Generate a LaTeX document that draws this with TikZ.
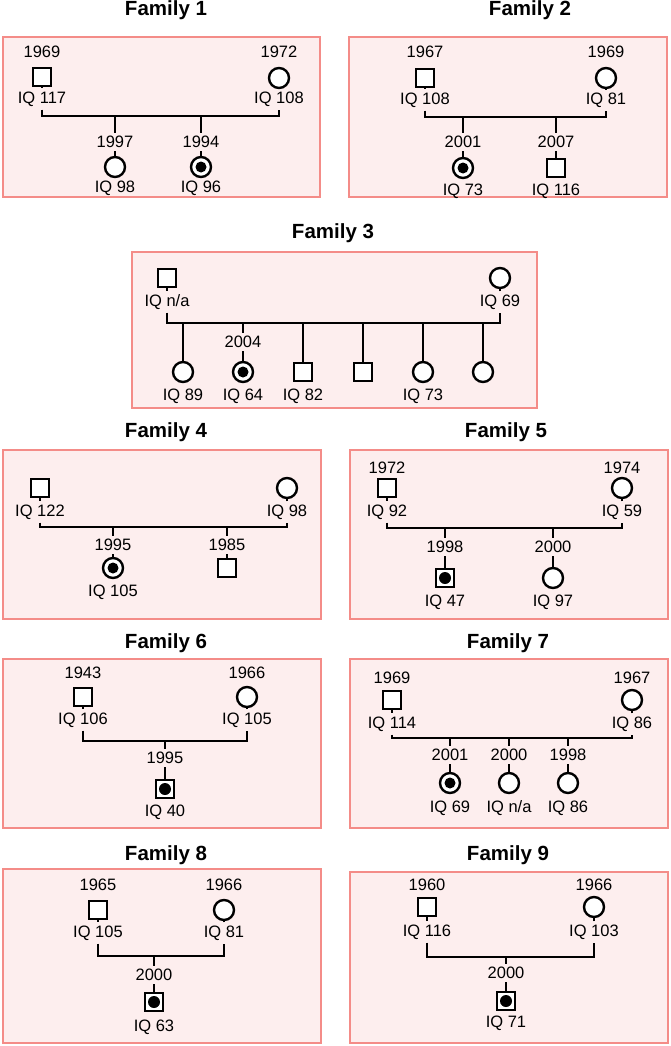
\documentclass[tikz,border=0pt]{standalone}
\usepackage{fontspec}
\setmainfont{Liberation Sans}
\definecolor{panelfill}{RGB}{253,238,238}
\definecolor{panelline}{RGB}{244,140,136}
\tikzset{
  panel/.style={draw=panelline, fill=panelfill, line width=2.2pt},
  ttl/.style={font=\fontsize{20.5}{24}\selectfont\bfseries, inner sep=0pt},
  lbl/.style={font=\fontsize{16.5}{19}\selectfont, inner xsep=1pt, inner ysep=3pt},
  male/.style={draw, rectangle, minimum size=18pt, inner sep=0pt, line width=2.4pt, fill=white},
  female/.style={draw, circle, minimum size=20pt, inner sep=0pt, line width=2.4pt, fill=white},
  ln/.style={line width=2.4pt, line join=miter},
  dotm/.style={fill=black},
}
\begin{document}
\begin{tikzpicture}[x=1pt,y=-1pt]
\fill[white] (0,0) rectangle (671,1046);
\useasboundingbox (0,0) rectangle (671,1046);

% ---------- panels ----------
\draw[panel] (3,37) rectangle (320,197);
\draw[panel] (349,37) rectangle (667,197);
\draw[panel] (132,252) rectangle (537,408);
\draw[panel] (3,450) rectangle (321,619);
\draw[panel] (350,450) rectangle (668,619);
\draw[panel] (3,659) rectangle (321,828);
\draw[panel] (350,659) rectangle (668,828);
\draw[panel] (3,869) rectangle (321,1043);
\draw[panel] (350,872) rectangle (668,1043);

% ---------- titles ----------
\node[ttl] (t1) at (166,10) {Family 1};
\node[ttl] (t2) at (530,10) {Family 2};
\node[ttl] (t3) at (333,233) {Family 3};
\node[ttl] (t4) at (166,432) {Family 4};
\node[ttl] (t5) at (506,432) {Family 5};
\node[ttl] (t6) at (166,643) {Family 6};
\node[ttl] (t7) at (508,643) {Family 7};
\node[ttl] (t8) at (166,855) {Family 8};
\node[ttl] (t9) at (508,855) {Family 9};

% ---------- Family 1 ----------
\node[male] (a1f) at (42,77) {};
\node[lbl] (a1fy) at (42,52) {1969};
\node[lbl] (a1fi) at (42,99) {IQ 117};
\node[female] (a1m) at (279,78) {};
\node[lbl] (a1my) at (279,52) {1972};
\node[lbl] (a1mi) at (279,99) {IQ 108};
\coordinate (a1L) at (42,116);
\coordinate (a1R) at (279,116);
\coordinate (a1j1) at (115,116);
\coordinate (a1j2) at (201,116);
\node[lbl] (a1c1y) at (115,142) {1997};
\node[lbl] (a1c2y) at (201,142) {1994};
\node[female] (a1c1) at (115,167) {};
\node[female] (a1c2) at (201,167) {};
\node[lbl] (a1c1i) at (115,188) {IQ 98};
\node[lbl] (a1c2i) at (201,188) {IQ 96};
\draw[ln] (a1f) -- (a1fi) -- (a1L) -- (a1R) -- (a1mi) -- (a1m);
\draw[ln] (a1j1) -- (a1c1y) -- (a1c1);
\draw[ln] (a1j2) -- (a1c2y) -- (a1c2);
\fill[dotm] (a1c2.center) circle[radius=5.5pt];

% ---------- Family 2 ----------
\node[male] (a2f) at (425,78) {};
\node[lbl] (a2fy) at (425,52) {1967};
\node[lbl] (a2fi) at (425,100) {IQ 108};
\node[female] (a2m) at (606,78) {};
\node[lbl] (a2my) at (606,52) {1969};
\node[lbl] (a2mi) at (606,100) {IQ 81};
\coordinate (a2L) at (425,117);
\coordinate (a2R) at (606,117);
\coordinate (a2j1) at (463,117);
\coordinate (a2j2) at (556,117);
\node[lbl] (a2c1y) at (463,142) {2001};
\node[lbl] (a2c2y) at (556,142) {2007};
\node[female] (a2c1) at (463,168) {};
\node[male] (a2c2) at (556,168) {};
\node[lbl] (a2c1i) at (463,191) {IQ 73};
\node[lbl] (a2c2i) at (556,191) {IQ 116};
\draw[ln] (a2f) -- (a2fi) -- (a2L) -- (a2R) -- (a2mi) -- (a2m);
\draw[ln] (a2j1) -- (a2c1y) -- (a2c1);
\draw[ln] (a2j2) -- (a2c2y) -- (a2c2);
\fill[dotm] (a2c1.center) circle[radius=5.5pt];

% ---------- Family 3 ----------
\node[male] (a3f) at (167,278) {};
\node[lbl] (a3fi) at (167,302) {IQ n/a};
\node[female] (a3m) at (500,278) {};
\node[lbl] (a3mi) at (500,302) {IQ 69};
\coordinate (a3L) at (167,323);
\coordinate (a3R) at (500,323);
\coordinate (a3j1) at (183,323);
\coordinate (a3j2) at (243,323);
\coordinate (a3j3) at (303,323);
\coordinate (a3j4) at (363,323);
\coordinate (a3j5) at (423,323);
\coordinate (a3j6) at (483,323);
\node[lbl] (a3c2y) at (243,342) {2004};
\node[female] (a3c1) at (183,372) {};
\node[female] (a3c2) at (243,372) {};
\node[male] (a3c3) at (303,372) {};
\node[male] (a3c4) at (363,372) {};
\node[female] (a3c5) at (423,372) {};
\node[female] (a3c6) at (483,372) {};
\node[lbl] (a3c1i) at (183,396) {IQ 89};
\node[lbl] (a3c2i) at (243,396) {IQ 64};
\node[lbl] (a3c3i) at (303,396) {IQ 82};
\node[lbl] (a3c5i) at (423,396) {IQ 73};
\draw[ln] (a3f) -- (a3fi) -- (a3L) -- (a3R) -- (a3mi) -- (a3m);
\draw[ln] (a3j1) -- (a3c1);
\draw[ln] (a3j2) -- (a3c2y) -- (a3c2);
\draw[ln] (a3j3) -- (a3c3);
\draw[ln] (a3j4) -- (a3c4);
\draw[ln] (a3j5) -- (a3c5);
\draw[ln] (a3j6) -- (a3c6);
\fill[dotm] (a3c2.center) circle[radius=5.5pt];

% ---------- Family 4 ----------
\node[male] (a4f) at (40,488) {};
\node[lbl] (a4fi) at (40,512) {IQ 122};
\node[female] (a4m) at (287,488) {};
\node[lbl] (a4mi) at (287,512) {IQ 98};
\coordinate (a4L) at (40,527);
\coordinate (a4R) at (287,527);
\coordinate (a4j1) at (113,527);
\coordinate (a4j2) at (227,527);
\node[lbl] (a4c1y) at (113,545) {1995};
\node[lbl] (a4c2y) at (227,545) {1985};
\node[female] (a4c1) at (113,568) {};
\node[male] (a4c2) at (227,568) {};
\node[lbl] (a4c1i) at (113,592) {IQ 105};
\draw[ln] (a4f) -- (a4fi) -- (a4L) -- (a4R) -- (a4mi) -- (a4m);
\draw[ln] (a4j1) -- (a4c1y) -- (a4c1);
\draw[ln] (a4j2) -- (a4c2y) -- (a4c2);
\fill[dotm] (a4c1.center) circle[radius=5.5pt];

% ---------- Family 5 ----------
\node[male] (a5f) at (387,488) {};
\node[lbl] (a5fy) at (387,468) {1972};
\node[lbl] (a5fi) at (387,512) {IQ 92};
\node[female] (a5m) at (622,488) {};
\node[lbl] (a5my) at (622,468) {1974};
\node[lbl] (a5mi) at (622,512) {IQ 59};
\coordinate (a5L) at (387,528);
\coordinate (a5R) at (622,528);
\coordinate (a5j1) at (445,528);
\coordinate (a5j2) at (553,528);
\node[lbl] (a5c1y) at (445,547) {1998};
\node[lbl] (a5c2y) at (553,547) {2000};
\node[male] (a5c1) at (445,578) {};
\node[female] (a5c2) at (553,578) {};
\node[lbl] (a5c1i) at (445,602) {IQ 47};
\node[lbl] (a5c2i) at (553,602) {IQ 97};
\draw[ln] (a5f) -- (a5fi) -- (a5L) -- (a5R) -- (a5mi) -- (a5m);
\draw[ln] (a5j1) -- (a5c1y) -- (a5c1);
\draw[ln] (a5j2) -- (a5c2y) -- (a5c2);
\fill[dotm] (a5c1.center) circle[radius=6pt];

% ---------- Family 6 ----------
\node[male] (a6f) at (83,697) {};
\node[lbl] (a6fy) at (83,673) {1943};
\node[lbl] (a6fi) at (83,720) {IQ 106};
\node[female] (a6m) at (247,697) {};
\node[lbl] (a6my) at (247,673) {1966};
\node[lbl] (a6mi) at (247,720) {IQ 105};
\coordinate (a6L) at (83,741);
\coordinate (a6R) at (247,741);
\coordinate (a6j1) at (165,741);
\node[lbl] (a6c1y) at (165,758) {1995};
\node[male] (a6c1) at (165,789) {};
\node[lbl] (a6c1i) at (165,812) {IQ 40};
\draw[ln] (a6f) -- (a6fi) -- (a6L) -- (a6R) -- (a6mi) -- (a6m);
\draw[ln] (a6j1) -- (a6c1y) -- (a6c1);
\fill[dotm] (a6c1.center) circle[radius=6pt];

% ---------- Family 7 ----------
\node[male] (a7f) at (392,700) {};
\node[lbl] (a7fy) at (392,678) {1969};
\node[lbl] (a7fi) at (392,724) {IQ 114};
\node[female] (a7m) at (632,700) {};
\node[lbl] (a7my) at (632,678) {1967};
\node[lbl] (a7mi) at (632,724) {IQ 86};
\coordinate (a7L) at (392,738);
\coordinate (a7R) at (632,738);
\coordinate (a7j1) at (450,738);
\coordinate (a7j2) at (509,738);
\coordinate (a7j3) at (568,738);
\node[lbl] (a7c1y) at (450,755) {2001};
\node[lbl] (a7c2y) at (509,755) {2000};
\node[lbl] (a7c3y) at (568,755) {1998};
\node[female] (a7c1) at (450,783) {};
\node[female] (a7c2) at (509,783) {};
\node[female] (a7c3) at (568,783) {};
\node[lbl] (a7c1i) at (450,808) {IQ 69};
\node[lbl] (a7c2i) at (509,808) {IQ n/a};
\node[lbl] (a7c3i) at (568,808) {IQ 86};
\draw[ln] (a7f) -- (a7fi) -- (a7L) -- (a7R) -- (a7mi) -- (a7m);
\draw[ln] (a7j1) -- (a7c1y) -- (a7c1);
\draw[ln] (a7j2) -- (a7c2y) -- (a7c2);
\draw[ln] (a7j3) -- (a7c3y) -- (a7c3);
\fill[dotm] (a7c1.center) circle[radius=5.5pt];

% ---------- Family 8 ----------
\node[male] (a8f) at (98,910) {};
\node[lbl] (a8fy) at (98,885) {1965};
\node[lbl] (a8fi) at (98,933) {IQ 105};
\node[female] (a8m) at (224,910) {};
\node[lbl] (a8my) at (224,885) {1966};
\node[lbl] (a8mi) at (224,933) {IQ 81};
\coordinate (a8L) at (98,956);
\coordinate (a8R) at (224,956);
\coordinate (a8j1) at (154,956);
\node[lbl] (a8c1y) at (154,975) {2000};
\node[male] (a8c1) at (154,1002) {};
\node[lbl] (a8c1i) at (154,1027) {IQ 63};
\draw[ln] (a8f) -- (a8fi) -- (a8L) -- (a8R) -- (a8mi) -- (a8m);
\draw[ln] (a8j1) -- (a8c1y) -- (a8c1);
\fill[dotm] (a8c1.center) circle[radius=6pt];

% ---------- Family 9 ----------
\node[male] (a9f) at (427,907) {};
\node[lbl] (a9fy) at (427,885) {1960};
\node[lbl] (a9fi) at (427,932) {IQ 116};
\node[female] (a9m) at (594,907) {};
\node[lbl] (a9my) at (594,885) {1966};
\node[lbl] (a9mi) at (594,932) {IQ 103};
\coordinate (a9L) at (427,957);
\coordinate (a9R) at (594,957);
\coordinate (a9j1) at (506,957);
\node[lbl] (a9c1y) at (506,973) {2000};
\node[male] (a9c1) at (506,1001) {};
\node[lbl] (a9c1i) at (506,1023) {IQ 71};
\draw[ln] (a9f) -- (a9fi) -- (a9L) -- (a9R) -- (a9mi) -- (a9m);
\draw[ln] (a9j1) -- (a9c1y) -- (a9c1);
\fill[dotm] (a9c1.center) circle[radius=6pt];
\end{tikzpicture}
\end{document}
